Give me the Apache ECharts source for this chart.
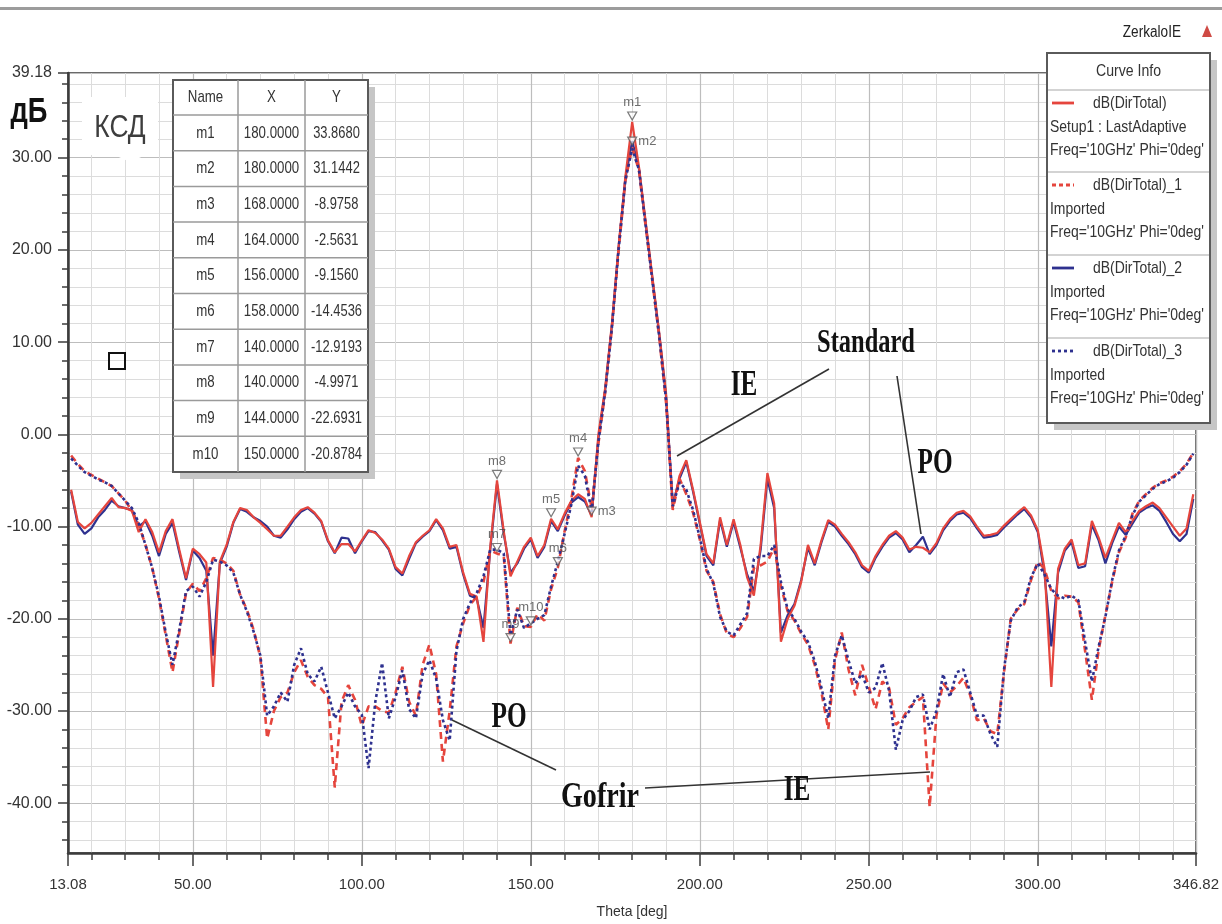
<!DOCTYPE html>
<html>
<head>
<meta charset="utf-8">
<title>ZerkaloIE — dB(DirTotal)</title>
<script src="https://cdn.jsdelivr.net/npm/echarts@6/dist/echarts.min.js"></script>
<style>
  html, body { margin: 0; padding: 0; background: #ffffff; }
  #chart { width: 1222px; height: 924px; }
</style>
</head>
<body>
<div id="chart"></div>
<script>
// ---------------- data ----------------
// Theta sample points, degrees (2-degree step)
const thetaDeg = [
  14,16,18,20,22,24,26,28,30,32,
  34,36,38,40,42,44,46,48,50,52,
  54,56,58,60,62,64,66,68,70,72,
  74,76,78,80,82,84,86,88,90,92,
  94,96,98,100,102,104,106,108,110,112,
  114,116,118,120,122,124,126,128,130,132,
  134,136,138,140,142,144,146,148,150,152,
  154,156,158,160,162,164,166,168,170,172,
  174,176,178,180,182,184,186,188,190,192,
  194,196,198,200,202,204,206,208,210,212,
  214,216,218,220,222,224,226,228,230,232,
  234,236,238,240,242,244,246,248,250,252,
  254,256,258,260,262,264,266,268,270,272,
  274,276,278,280,282,284,286,288,290,292,
  294,296,298,300,302,304,306,308,310,312,
  314,316,318,320,322,324,326,328,330,332,
  334,336,338,340,342,344,346
];

// dB(DirTotal) — Standard horn, IE solver (solid red)
const standardIE = [
  -6.0,-9.5,-10.2,-9.6,-8.7,-7.8,-6.9,-7.9,-8.0,-8.3,
  -10.6,-9.2,-10.6,-12.8,-10.5,-9.2,-12.5,-15.6,-12.4,-13.0,
  -13.9,-27.4,-13.8,-12.0,-9.5,-8.0,-8.2,-9.0,-9.6,-10.3,
  -11.0,-11.0,-10.0,-9.0,-8.2,-7.9,-8.5,-9.4,-11.5,-12.8,
  -11.9,-11.9,-12.7,-11.5,-10.4,-10.7,-11.4,-12.4,-14.4,-15.1,
  -13.2,-11.7,-11.0,-10.4,-9.2,-10.2,-12.2,-12.0,-15.0,-17.3,
  -17.6,-22.5,-12.2,-4.9971,-10.5,-15.4,-13.8,-12.2,-11.2,-13.2,
  -12.0,-9.156,-10.3,-8.6,-7.2,-6.5,-7.0,-8.9758,0.0,5.0,
  12.0,20.5,28.0,33.868,29.0,23.0,17.0,11.0,4.5,-8.0,
  -4.5,-2.8,-6.0,-9.5,-13.0,-14.0,-9.0,-12.0,-9.2,-12.0,
  -15.5,-17.5,-12.0,-4.2,-7.5,-22.5,-20.0,-18.6,-16.0,-12.0,
  -14.0,-11.5,-9.3,-9.8,-10.8,-11.7,-12.8,-14.2,-14.8,-13.2,
  -12.0,-11.0,-10.5,-11.2,-12.5,-12.2,-12.3,-12.8,-11.8,-10.2,
  -9.2,-8.5,-8.3,-8.9,-10.0,-11.0,-10.9,-10.7,-9.9,-9.2,
  -8.5,-7.9,-8.8,-10.4,-14.6,-27.4,-14.6,-12.4,-11.4,-14.2,
  -14.0,-9.4,-11.2,-13.4,-11.5,-9.6,-10.6,-9.4,-8.3,-7.8,
  -7.4,-8.0,-9.0,-10.0,-11.0,-10.2,-6.5
];

// dB(DirTotal)_1 — Gofrir (corrugated) horn, IE solver (dashed red)
const gofrirIE = [
  -2.3,-3.2,-4.0,-4.4,-4.8,-5.2,-5.6,-6.4,-7.2,-8.3,
  -9.8,-12.0,-14.5,-17.8,-21.8,-25.8,-21.5,-17.2,-16.2,-17.0,
  -15.6,-13.4,-13.6,-14.0,-14.8,-17.4,-19.0,-21.2,-24.2,-33.0,
  -30.0,-28.5,-28.0,-25.8,-24.5,-26.3,-27.2,-27.6,-28.5,-38.3,
  -29.0,-27.2,-28.8,-31.6,-29.5,-29.5,-30.0,-30.2,-28.0,-25.2,
  -29.0,-30.5,-25.0,-22.8,-26.0,-35.5,-30.0,-23.0,-20.5,-18.5,
  -17.6,-16.0,-12.6,-12.9193,-13.2,-22.6931,-18.8,-20.8,-20.8784,-19.5,
  -20.2,-16.8,-14.4536,-10.5,-7.0,-2.5631,-4.0,-8.0,-1.0,4.5,
  11.5,20.0,27.5,31.1442,28.6,22.5,16.5,10.5,3.5,-8.2,
  -4.8,-6.5,-8.5,-11.4,-14.8,-16.0,-19.5,-21.6,-22.0,-21.0,
  -19.8,-14.5,-14.2,-13.8,-12.3,-16.5,-19.2,-20.2,-21.6,-22.8,
  -25.0,-28.0,-32.0,-24.5,-21.5,-25.5,-28.3,-25.0,-27.4,-29.8,
  -26.8,-27.5,-31.5,-30.8,-29.6,-29.0,-28.5,-40.4,-30.5,-27.0,
  -28.0,-27.3,-26.4,-28.3,-31.0,-30.8,-32.2,-32.5,-25.8,-20.0,
  -19.0,-18.4,-15.8,-13.8,-14.6,-17.0,-17.8,-17.5,-17.6,-18.2,
  -23.5,-28.8,-23.4,-19.6,-16.0,-12.8,-11.2,-8.6,-7.2,-6.5,
  -5.8,-5.3,-5.0,-4.6,-4.0,-3.2,-2.0
];

// dB(DirTotal)_2 — Standard horn, PO solver (solid blue)
const standardPO = [
  -6.2,-9.8,-10.8,-10.2,-9.0,-8.2,-7.2,-7.8,-8.0,-8.2,
  -10.0,-9.4,-11.0,-13.2,-10.8,-9.6,-12.8,-15.8,-12.6,-13.4,
  -14.8,-24.0,-14.0,-12.2,-9.6,-8.1,-8.4,-9.0,-9.4,-10.0,
  -11.0,-11.2,-10.3,-9.2,-8.4,-8.0,-8.6,-9.5,-11.6,-12.9,
  -11.2,-11.3,-12.9,-11.6,-10.5,-10.6,-11.5,-12.5,-14.6,-15.3,
  -13.5,-11.8,-11.1,-10.5,-9.3,-10.4,-12.4,-12.2,-15.2,-17.5,
  -17.8,-21.0,-12.5,-5.4,-10.8,-15.0,-14.0,-12.4,-11.4,-13.4,
  -12.2,-9.4,-10.5,-8.8,-7.4,-6.8,-7.3,-8.8,-0.5,4.8,
  11.8,20.3,27.8,31.8,28.8,22.8,16.8,10.8,4.2,-7.6,
  -4.8,-3.0,-6.2,-9.7,-13.2,-14.2,-9.3,-12.2,-9.5,-12.3,
  -15.2,-17.0,-12.5,-4.8,-8.0,-21.5,-19.6,-18.4,-15.8,-12.3,
  -14.2,-11.7,-9.5,-10.0,-11.0,-11.9,-13.0,-14.4,-15.0,-13.4,
  -12.2,-11.2,-10.7,-11.4,-12.8,-12.0,-11.1,-13.0,-12.0,-10.4,
  -9.4,-8.7,-8.5,-9.1,-10.2,-11.2,-11.1,-10.9,-10.1,-9.4,
  -8.7,-8.1,-9.0,-10.6,-15.2,-23.0,-15.0,-12.6,-11.7,-14.5,
  -14.3,-9.8,-11.5,-14.0,-11.8,-10.0,-10.9,-9.7,-8.5,-8.0,
  -7.7,-8.3,-9.5,-10.8,-11.6,-10.8,-7.0
];

// dB(DirTotal)_3 — Gofrir (corrugated) horn, PO solver (dotted blue)
const gofrirPO = [
  -2.6,-3.4,-4.1,-4.5,-4.9,-5.2,-5.6,-6.4,-7.2,-8.0,
  -9.6,-12.0,-14.5,-17.6,-21.5,-25.0,-21.2,-17.0,-16.5,-17.6,
  -16.0,-13.6,-13.8,-14.2,-15.0,-17.4,-19.2,-21.4,-24.0,-30.5,
  -29.5,-28.0,-29.0,-25.0,-23.2,-26.0,-26.8,-25.2,-28.0,-30.8,
  -29.5,-28.0,-29.5,-30.4,-36.2,-29.0,-24.8,-30.8,-28.5,-25.6,
  -29.8,-30.8,-26.0,-24.5,-26.5,-31.0,-33.2,-23.5,-20.0,-18.3,
  -17.2,-15.4,-12.5,-12.5,-12.9,-21.8,-19.0,-21.0,-20.5,-20.0,
  -19.6,-16.5,-13.8,-10.8,-7.6,-3.4,-4.5,-8.4,-0.8,4.6,
  11.6,20.2,27.6,31.0,28.7,22.6,16.6,10.6,3.8,-7.8,
  -5.2,-6.0,-8.2,-11.2,-14.6,-16.2,-19.8,-21.4,-21.8,-20.6,
  -19.4,-13.5,-13.2,-13.2,-12.0,-16.0,-19.0,-20.0,-21.4,-22.5,
  -24.6,-27.5,-30.8,-24.0,-21.8,-24.5,-27.0,-26.0,-28.0,-27.5,
  -24.8,-27.8,-34.2,-31.0,-30.0,-28.5,-28.2,-32.0,-30.0,-26.0,
  -28.5,-25.8,-25.5,-28.0,-30.5,-30.5,-32.5,-33.9,-25.5,-20.2,
  -18.8,-18.2,-15.5,-14.0,-15.2,-16.8,-17.5,-17.8,-17.5,-18.0,
  -22.5,-26.8,-23.0,-19.8,-15.8,-12.6,-11.0,-8.8,-7.3,-6.6,
  -5.9,-5.4,-5.1,-4.7,-4.1,-3.3,-2.1
];

// Trace markers
const markerNames = ['m1','m2','m3','m4','m5','m6','m7','m8','m9','m10'];
const markerTheta = [180, 180, 168, 164, 156, 158, 140, 140, 144, 150];
const markerDb = [33.868, 31.1442, -8.9758, -2.5631, -9.156, -14.4536, -12.9193, -4.9971, -22.6931, -20.8784];

// Curve info
const curveNames = ['dB(DirTotal)', 'dB(DirTotal)_1', 'dB(DirTotal)_2', 'dB(DirTotal)_3'];
const curveSources = ['Setup1 : LastAdaptive', 'Imported', 'Imported', 'Imported'];
const curveFreq = "Freq='10GHz' Phi='0deg'";

// Axis extents and ticks
const thetaMin = 13.08, thetaMax = 346.82;
const dbMin = -45.4, dbMax = 39.18;
const thetaMinorTicks = [20,30,40,50,60,70,80,90,100,110,120,130,140,150,160,170,180,
  190,200,210,220,230,240,250,260,270,280,290,300,310,320,330,340];
const thetaMajorTicks = [13.08, 50, 100, 150, 200, 250, 300, 346.82];
const dbMinorTicks = [-44,-42,-40,-38,-36,-34,-32,-30,-28,-26,-24,-22,-20,-18,-16,-14,-12,-10,
  -8,-6,-4,-2,0,2,4,6,8,10,12,14,16,18,20,22,24,26,28,30,32,34,36,38];
const dbMajorTicks = [-40, -30, -20, -10, 0, 10, 20, 30, 39.18];

// ---------------- styling ----------------
const RED = '#e5453d';
const BLUE = '#2e318f';
const SANS = "'Liberation Sans', Arial, sans-serif";
const SERIF = "'Liberation Serif', 'Times New Roman', serif";
const AXIS_DARK = '#3c3c3c';

const curveStyles = [
  { color: RED,  width: 2.2, type: 'solid', z: 3 },
  { color: RED,  width: 2.6, type: [7, 5],  z: 4 },
  { color: BLUE, width: 2.2, type: 'solid', z: 2 },
  { color: BLUE, width: 2.6, type: [3, 3],  z: 5 }
];
const curveValues = [standardIE, gofrirIE, standardPO, gofrirPO];

const pairs = vals => thetaDeg.map((t, i) => [t, vals[i]]);

const series = curveNames.map((name, k) => ({
  name,
  type: 'line',
  data: pairs(curveValues[k]),
  symbol: 'none',
  silent: true,
  z: curveStyles[k].z,
  lineStyle: { color: curveStyles[k].color, width: curveStyles[k].width, type: curveStyles[k].type },
  itemStyle: { color: curveStyles[k].color }
}));

// marker triangles with their names
const sideLabelled = new Set(['m2', 'm3']);
series.push({
  name: 'markers',
  type: 'scatter',
  z: 10,
  silent: true,
  symbol: 'triangle',
  symbolRotate: 180,
  symbolSize: [9, 8],
  symbolOffset: [0, -6],
  itemStyle: { color: 'rgba(255,255,255,0.85)', borderColor: '#5a5a5a', borderWidth: 1.2 },
  label: { show: true, formatter: '{b}', color: '#4a4a4a', fontSize: 13, fontFamily: SANS, distance: 2 },
  data: markerNames.map((n, i) => ({
    name: n,
    value: [markerTheta[i], markerDb[i]],
    label: sideLabelled.has(n) ? { position: 'right', distance: 1 } : { position: 'top' }
  }))
});

// ---------------- overlay: text, table, curve info ----------------
function txt(x, y, s, o) {
  o = o || {};
  return {
    type: 'text', x, y, z: 120, silent: true,
    scaleX: o.sx || 1, scaleY: o.sy || 1,
    style: {
      text: s,
      font: (o.weight || 'normal') + ' ' + (o.size || 13) + 'px ' + (o.family || SANS),
      fill: o.color || '#333',
      textAlign: o.align || 'center', align: o.align || 'center',
      textVerticalAlign: 'middle', verticalAlign: 'middle'
    }
  };
}
function rect(x, y, w, h, style, z) {
  return { type: 'rect', z: z || 110, silent: true, shape: { x, y, width: w, height: h }, style };
}
function seg(x1, y1, x2, y2, stroke, width, dash, z) {
  return { type: 'line', z: z || 115, silent: true, shape: { x1, y1, x2, y2 },
           style: { stroke, lineWidth: width, lineDash: dash || null } };
}

const g = [];

// window strip and project title
g.push(rect(0, 7, 1222, 3, { fill: '#9c9c9c' }));
g.push(txt(1181, 33, 'ZerkaloIE', { size: 16, align: 'right', color: '#222', sx: 0.85 }));
g.push({ type: 'polygon', z: 120, silent: true,
         shape: { points: [[1202, 37], [1212, 37], [1207, 25]] }, style: { fill: '#cf4a44' } });

// unit and quantity captions
g.push(txt(29, 112, 'дБ', { size: 35, weight: 'bold', color: '#111', sx: 0.78 }));
g.push(rect(82, 97, 76, 58, { fill: '#ffffff' }, 105));
g.push({ type: 'polygon', z: 105, silent: true,
         shape: { points: [[112, 154], [148, 154], [130, 162]] }, style: { fill: '#ffffff' } });
g.push(txt(120, 128, 'КСД', { size: 31, color: '#3d3d3d', sx: 0.85 }));
g.push(rect(109, 353, 16, 16, { fill: 'none', stroke: '#111', lineWidth: 2 }, 120));

// marker table
const tL = 173, tT = 80, tW = 195, headH = 35, rowH = 35.7;
const colX = [173, 238, 305, 368];
const tH = headH + rowH * markerNames.length;
g.push(rect(tL + 7, tT + 7, tW, tH, { fill: '#c6c6c6' }, 108));
g.push(rect(tL, tT, tW, tH, { fill: '#ffffff', stroke: '#5a5a5a', lineWidth: 2 }, 110));
[colX[1], colX[2]].forEach(x => g.push(seg(x, tT, x, tT + tH, '#9a9a9a', 1.5)));
for (let i = 0; i < markerNames.length; i++) {
  const y = tT + headH + rowH * i;
  g.push(seg(tL, y, tL + tW, y, '#9a9a9a', 1.5));
}
const colMid = [0, 1, 2].map(c => (colX[c] + colX[c + 1]) / 2);
const cell = { size: 17, sx: 0.78, color: '#333' };
['Name', 'X', 'Y'].forEach((h, c) => g.push(txt(colMid[c], tT + headH / 2, h, cell)));
markerNames.forEach((n, i) => {
  const y = tT + headH + rowH * (i + 0.5);
  g.push(txt(colMid[0], y, n, cell));
  g.push(txt(colMid[1], y, markerTheta[i].toFixed(4), cell));
  g.push(txt(colMid[2], y, markerDb[i].toFixed(4), Object.assign({}, cell, { sx: 0.76 })));
});

// curve info box
const lL = 1047, lT = 53, lW = 163, lHead = 37;
const entryH = [82, 83, 83, 85];
const lH = lHead + entryH.reduce((a, b) => a + b, 0);
g.push(rect(lL + 7, lT + 7, lW, lH, { fill: '#c6c6c6' }, 108));
g.push(rect(lL, lT, lW, lH, { fill: '#ffffff', stroke: '#5a5a5a', lineWidth: 2 }, 110));
g.push(txt(lL + lW / 2, lT + lHead / 2, 'Curve Info', { size: 16, sx: 0.88, color: '#333' }));
const info = { size: 17, sx: 0.82, align: 'left', color: '#333' };
let ey = lT + lHead;
curveNames.forEach((n, k) => {
  g.push(seg(lL + 1, ey, lL + lW - 1, ey, '#c4c4c4', 1.5));
  const y1 = ey + 13, y2 = ey + 37, y3 = ey + 60;
  g.push(seg(lL + 5, y1, lL + 27, y1, curveStyles[k].color, 2.8,
             k === 1 ? [4, 3] : (k === 3 ? [3, 3] : null), 116));
  g.push(txt(lL + 46, y1, n, info));
  g.push(txt(lL + 3, y2, curveSources[k], info));
  g.push(txt(lL + 3, y3, curveFreq, info));
  ey += entryH[k];
});

// callouts naming the four curves
const ann = { size: 36, weight: 'bold', family: SERIF, color: '#111', sx: 0.7 };
g.push(txt(866, 343, 'Standard', Object.assign({}, ann, { size: 34, sx: 0.72 })));
g.push(txt(744, 386, 'IE', ann));
g.push(txt(935, 464, 'PO', ann));
g.push(txt(509, 718, 'PO', ann));
g.push(txt(600, 798, 'Gofrir', Object.assign({}, ann, { sx: 0.78 })));
g.push(txt(797, 791, 'IE', ann));
g.push(seg(829, 369, 677, 456, '#333', 1.6));
g.push(seg(897, 376, 921, 534, '#333', 1.6));
g.push(seg(556, 770, 452, 720, '#333', 1.6));
g.push(seg(645, 788, 930, 772, '#333', 1.6));

// ---------------- chart ----------------
const chart = echarts.init(document.getElementById('chart'), null, { renderer: 'canvas' });

chart.setOption({
  animation: false,
  backgroundColor: '#ffffff',
  grid: {
    left: 68, right: 25, top: 73, bottom: 71,
    show: true, borderColor: '#6a6a6a', borderWidth: 2, backgroundColor: 'transparent'
  },
  xAxis: [
    {
      type: 'value', min: thetaMin, max: thetaMax, position: 'bottom',
      axisLine: { show: true, onZero: false, lineStyle: { color: AXIS_DARK, width: 2.5 } },
      axisTick: { show: true, customValues: thetaMinorTicks, length: 7, lineStyle: { color: AXIS_DARK, width: 1.5 } },
      axisLabel: { show: false },
      splitLine: { show: true, lineStyle: { color: '#dcdcdc', width: 1 } }
    },
    {
      type: 'value', min: thetaMin, max: thetaMax, position: 'bottom',
      axisLine: { show: false, onZero: false },
      axisTick: { show: true, customValues: thetaMajorTicks, length: 13, lineStyle: { color: AXIS_DARK, width: 1.5 } },
      axisLabel: {
        show: true, customValues: thetaMajorTicks, formatter: v => Number(v).toFixed(2),
        margin: 24, color: '#333', fontSize: 15, fontFamily: SANS
      },
      splitLine: { show: true, lineStyle: { color: '#bdbdbd', width: 1.2 } },
      name: 'Theta [deg]', nameLocation: 'middle', nameGap: 52,
      nameTextStyle: { color: '#333', fontSize: 14, fontFamily: SANS }
    }
  ],
  yAxis: [
    {
      type: 'value', min: dbMin, max: dbMax, position: 'left',
      axisLine: { show: true, onZero: false, lineStyle: { color: AXIS_DARK, width: 2.5 } },
      axisTick: { show: true, customValues: dbMinorTicks, length: 6, lineStyle: { color: AXIS_DARK, width: 1.5 } },
      axisLabel: { show: false },
      splitLine: { show: true, lineStyle: { color: '#dcdcdc', width: 1 } }
    },
    {
      type: 'value', min: dbMin, max: dbMax, position: 'left',
      axisLine: { show: false, onZero: false },
      axisTick: { show: true, customValues: dbMajorTicks, length: 10, lineStyle: { color: AXIS_DARK, width: 1.5 } },
      axisLabel: {
        show: true, customValues: dbMajorTicks, formatter: v => Number(v).toFixed(2),
        margin: 16, color: '#333', fontSize: 16, fontFamily: SANS
      },
      splitLine: { show: true, lineStyle: { color: '#bdbdbd', width: 1.2 } }
    }
  ],
  series,
  graphic: { elements: g }
});
</script>
</body>
</html>
